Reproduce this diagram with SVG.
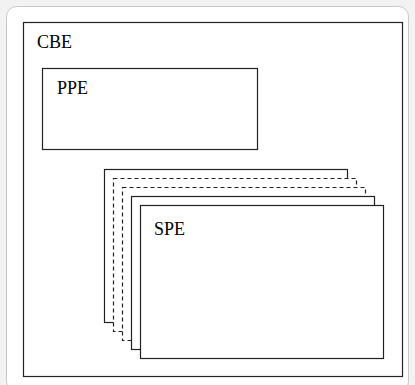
<svg xmlns="http://www.w3.org/2000/svg" width="415" height="385" viewBox="0 0 415 385">
<style>
.box{fill:#fff;stroke:#222;stroke-width:1.2}
.dash{fill:#fff;stroke:#222;stroke-width:1.2;stroke-dasharray:4 3}
.lbl{font-family:"Liberation Serif","DejaVu Serif",serif;font-size:18px;fill:#000}
</style>
<rect x="0" y="0" width="415" height="385" fill="#f2f2f2"/>
<rect x="6.5" y="6.5" width="402" height="385" rx="10" fill="#fff" stroke="#c8c8c8"/>
<g id="CBE">
<rect class="box" x="23.5" y="22.5" width="379" height="354"/>
<text class="lbl" x="37" y="48">CBE</text>
</g>
<g id="PPE">
<rect class="box" x="42.5" y="68.5" width="215" height="81"/>
<text class="lbl" x="57" y="94">PPE</text>
</g>
<g id="SPE">
<rect class="box" x="104.5" y="169.5" width="243" height="153"/>
<rect class="dash" x="113.5" y="178.5" width="243" height="153"/>
<rect class="dash" x="122.5" y="187.5" width="243" height="153"/>
<rect class="box" x="131.5" y="196.5" width="243" height="153"/>
<rect class="box" x="140.5" y="205.5" width="243" height="153"/>
<text class="lbl" x="154" y="235">SPE</text>
</g>
<g id="connectors"/>
</svg>
